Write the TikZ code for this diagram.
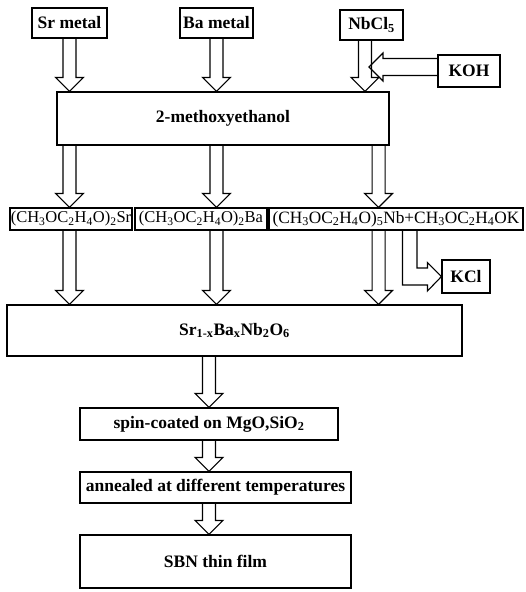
\documentclass[tikz,border=0pt]{standalone}
\usepackage{fontspec}
\setmainfont{Liberation Serif}
\usetikzlibrary{calc}
\tikzset{box/.style={draw, line width=1.1pt, inner sep=1pt, font=\fontsize{17.5}{19}\selectfont\bfseries},
  chem/.style={draw, line width=1.1pt, inner sep=0.5pt, font=\fontsize{16.5}{18}\selectfont},
  fat/.style={line width=1.1pt, line join=miter}}
\newcommand\sub[1]{\textsubscript{#1}}
% hollow block arrow from #2 to #3, #1 = half shaft width
\newcommand\fatarrow[3][6.5pt]{%
  \coordinate (fa-s) at #2;
  \coordinate (fa-e) at #3;
  \coordinate (fa-h) at ($(fa-e)!14pt!(fa-s)$);
  \draw[fat] ($(fa-s)!#1!90:(fa-e)$) -- ($(fa-h)!#1!90:(fa-e)$)
    -- ($(fa-h)!14pt!90:(fa-e)$) -- (fa-e) -- ($(fa-h)!14pt!-90:(fa-e)$)
    -- ($(fa-h)!#1!-90:(fa-e)$) -- ($(fa-s)!#1!-90:(fa-e)$);}

\begin{document}
\begin{tikzpicture}[x=1pt,y=-1pt]
  \useasboundingbox (0,0) rectangle (526,592);
  % starting materials
  \node[box, minimum width=75pt, minimum height=30pt] (srm) at (69.5,23) {Sr metal};
  \node[box, minimum width=73pt, minimum height=30pt] (bam) at (216.5,23) {Ba metal};
  \node[box, minimum width=63pt, minimum height=30pt] (nbcl) at (371.5,25) {NbCl\sub{5}};
  \node[box, minimum width=62pt, minimum height=32pt] (koh) at (469,71) {KOH};
  \node[box, minimum width=332pt, minimum height=53pt] (meth) at (223,118.5) {2-methoxyethanol};
  % alkoxides
  \node[chem, minimum width=122pt, minimum height=22pt] (sr2) at (71,219) {(CH\sub{3}OC\sub{2}H\sub{4}O)\sub{2}Sr};
  \node[chem, minimum width=132pt, minimum height=22pt] (ba2) at (201,219) {(CH\sub{3}OC\sub{2}H\sub{4}O)\sub{2}Ba};
  \node[chem, minimum width=254pt, minimum height=22pt, font=\fontsize{17.3}{18}\selectfont] (nb2) at (396,219) {(CH\sub{3}OC\sub{2}H\sub{4}O)\sub{5}Nb+CH\sub{3}OC\sub{2}H\sub{4}OK};
  \node[box, minimum width=48pt, minimum height=33pt] (kcl) at (466,276.5) {KCl};
  % solution and film
  \node[box, minimum width=455pt, minimum height=51pt] (sbo) at (234.5,330.5) {Sr\sub{1-x}Ba\sub{x}Nb\sub{2}O\sub{6}};
  \node[box, minimum width=258pt, minimum height=32pt] (spin) at (209,424) {spin-coated on MgO,SiO\sub{2}};
  \node[box, minimum width=271pt, minimum height=31pt] (ann) at (215.5,487.5) {annealed at different temperatures};
  \node[box, minimum width=271pt, minimum height=53pt] (sbn) at (215.5,561.5) {SBN thin film};
  % arrows
  \coordinate (nbx) at ($(nbcl.south)+(-6.5,0)$);
  \coordinate (nby) at ($(meth.south east)+(-11,0)$);
  \fatarrow{(srm.south)}{(srm.south |- meth.north)}
  \fatarrow{(bam.south)}{(bam.south |- meth.north)}
  \fatarrow{(nbx)}{(nbx |- meth.north)}
  \fatarrow[8.5pt]{($(koh.west)+(0,-4)$)}{($(nbx |- koh.west)+(4,-4)$)}
  \fatarrow{(srm.south |- meth.south)}{(srm.south |- sr2.north)}
  \fatarrow{(bam.south |- meth.south)}{(bam.south |- ba2.north)}
  \fatarrow{(nby)}{(nby |- nb2.north)}
  \fatarrow{(srm.south |- sr2.south)}{(srm.south |- sbo.north)}
  \fatarrow{(bam.south |- ba2.south)}{(bam.south |- sbo.north)}
  \fatarrow{(nby |- nb2.south)}{(nby |- sbo.north)}
  \fatarrow{(spin.north |- sbo.south)}{(spin.north)}
  \fatarrow{(spin.south)}{(spin.south |- ann.north)}
  \fatarrow{(spin.south |- ann.south)}{(spin.south |- sbn.north)}
  % by-product KCl
  \draw[fat] ($(nb2.south)+(6.5,0)$) |- ($(kcl.west)+(-14,8.5)$) -- ++(0,6) -- (kcl.west)
    -- ($(kcl.west)+(-14,-14)$) -- ++(0,5.5) -| ($(nb2.south)+(21,0)$);
\end{tikzpicture}
\end{document}
